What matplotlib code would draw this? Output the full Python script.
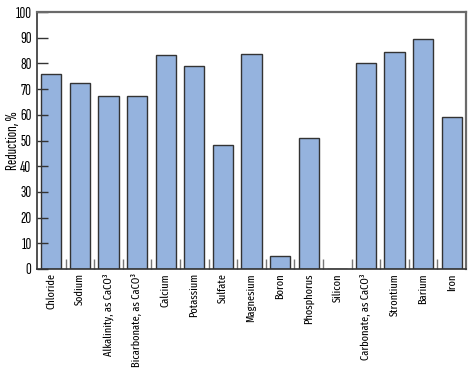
import matplotlib.pyplot as plt
import numpy as np

categories = ['Chloride', 'Sodium', 'Alkalinity, as CaCO³', 'Bicarbonate, as CaCO³',
              'Calcium', 'Potassium', 'Sulfate', 'Magnesium', 'Boron', 'Phosphorus',
              'Silicon', 'Carbonate, as CaCO³', 'Strontium', 'Barium', 'Iron']
reduction = [75.9, 72.5, 67.3, 67.3, 83.4, 79.0, 48.4, 83.7, 5.0, 50.8,
             0.0, 80.2, 84.6, 89.5, 59.3]
yticks = [0, 10, 20, 30, 40, 50, 60, 70, 80, 90, 100]

plt.rcParams['font.family'] = ['Sofia Sans Extra Condensed', 'DejaVu Sans']
label_font = ['Fira Sans Extra Condensed', 'DejaVu Sans']

fig = plt.figure(figsize=(4.68, 3.73), dpi=100)
ax = fig.add_axes([37 / 468, 1 - 269 / 373, 429 / 468, 257 / 373])

x = np.arange(len(categories))
ax.bar(x, reduction, width=0.7, color='#95b3de', edgecolor='#333333', linewidth=1.0)

ax.set_xlim(-0.5, len(categories) - 0.5)
ax.set_ylim(0, 100)
ax.set_yticks(yticks)
ax.tick_params(axis='y', direction='in', length=8, width=1, color='#333333',
               labelsize=11.5, pad=4)

ax.set_xticks(x)
ax.set_xticklabels(categories, rotation=90, fontsize=8.1, family=label_font)
ax.tick_params(axis='x', which='major', length=0, pad=3)
ax.set_xticks(np.arange(0.5, len(categories) - 0.5, 1), minor=True)
ax.tick_params(axis='x', which='minor', direction='in', length=7.5, width=1, color='#777777')

ax.set_ylabel('Reduction, %', fontsize=11.5)
ax.yaxis.set_label_coords(-17 / 429, 0.5)

for side in ['top', 'right']:
    ax.spines[side].set_color('#6a6a6a')
    ax.spines[side].set_linewidth(1.6)
for side in ['left', 'bottom']:
    ax.spines[side].set_color('#333333')
    ax.spines[side].set_linewidth(1.2)

fig.savefig('out.png', dpi=100)
